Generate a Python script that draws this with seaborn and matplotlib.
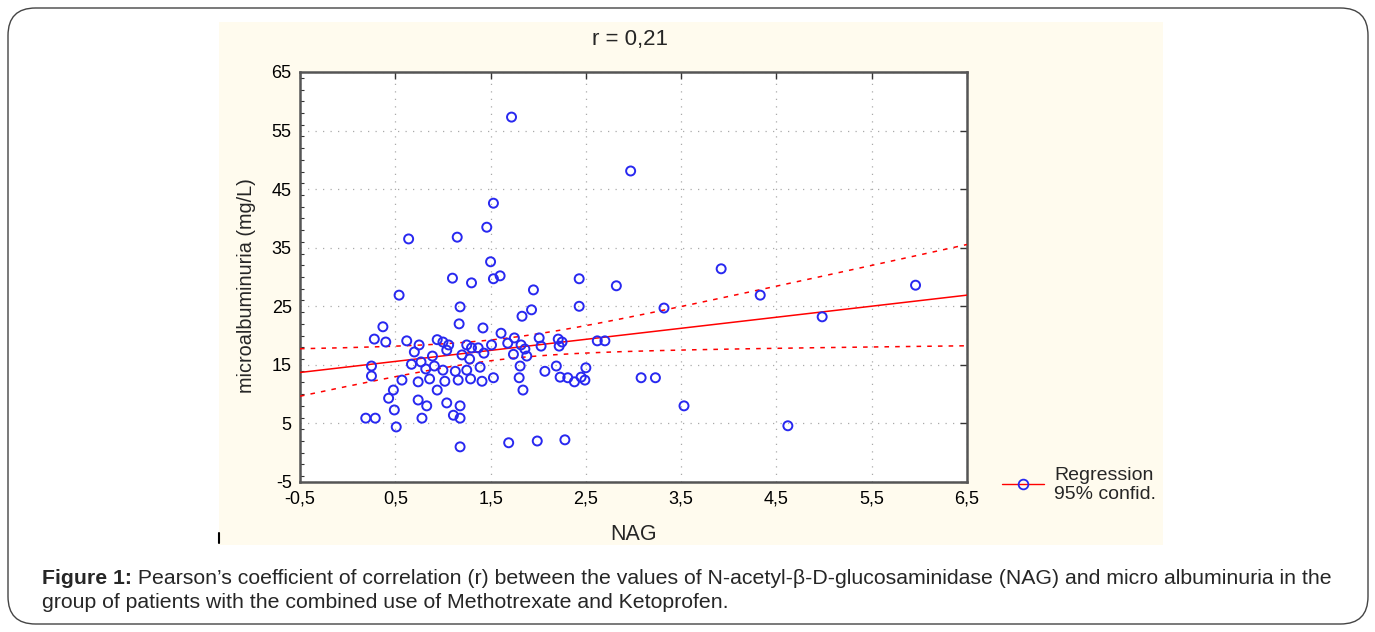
import numpy as np
import pandas as pd
import matplotlib
matplotlib.use("Agg")
import matplotlib.pyplot as plt
from matplotlib.lines import Line2D
from matplotlib.patches import Rectangle, FancyBboxPatch
from matplotlib.ticker import FuncFormatter, MultipleLocator
import seaborn as sns

# ---- data ----
nag = [1.72, 2.97, 1.53, 0.64, 1.15, 1.46, 1.50, 3.92, 1.10, 1.60, 1.53, 2.43, 1.30, 2.82,
       1.95, 5.96, 0.54, 4.33, 2.43, 3.32, 1.18, 4.98, 1.83, 1.93, 0.37, 1.17, 1.42, 1.61,
       1.75, 2.01, 2.21, 2.25, 2.62, 2.70, 0.28, 0.40, 0.62, 0.75, 0.94, 1.00, 1.06, 1.25,
       1.30, 1.37, 1.51, 1.68, 1.82, 1.86, 2.03, 2.22, 0.70, 0.89, 1.04, 1.20, 1.28, 1.43,
       1.74, 1.88, 0.25, 0.25, 0.67, 0.77, 0.82, 0.91, 1.00, 1.13, 1.25, 1.39, 1.81, 2.07,
       2.19, 2.50, 0.57, 0.74, 0.86, 1.02, 1.16, 1.29, 1.41, 1.53, 1.80, 2.23, 2.31, 2.38,
       2.45, 2.49, 3.08, 3.23, 1.84, 0.48, 0.94, 0.74, 0.43, 1.04, 0.83, 1.18, 3.53, 0.49,
       0.19, 0.29, 0.78, 1.11, 1.18, 0.51, 4.62, 1.69, 1.99, 2.28, 1.18]
malb = [57.3, 48.1, 42.6, 36.5, 36.8, 38.5, 32.6, 31.4, 29.8, 30.2, 29.7, 29.7, 29.0, 28.5,
        27.8, 28.6, 26.9, 26.9, 25.0, 24.7, 24.9, 23.2, 23.3, 24.4, 21.5, 22.0, 21.3, 20.4,
        19.6, 19.6, 19.4, 18.9, 19.1, 19.1, 19.4, 18.9, 19.1, 18.4, 19.3, 18.9, 18.4, 18.4,
        17.9, 17.9, 18.4, 18.7, 18.4, 17.7, 18.2, 18.2, 17.2, 16.5, 17.5, 16.7, 16.0, 17.0,
        16.8, 16.5, 14.8, 13.1, 15.1, 15.5, 14.3, 14.8, 14.1, 13.9, 14.1, 14.6, 14.8, 13.9,
        14.8, 14.5, 12.4, 12.1, 12.6, 12.2, 12.4, 12.6, 12.2, 12.8, 12.8, 12.9, 12.8, 12.1,
        12.9, 12.4, 12.8, 12.8, 10.7, 10.7, 10.7, 9.0, 9.3, 8.5, 8.0, 8.0, 8.0, 7.3,
        5.9, 5.9, 5.9, 6.4, 5.9, 4.4, 4.6, 1.7, 2.0, 2.2, 1.0]
x_ticks = [-0.5, 0.5, 1.5, 2.5, 3.5, 4.5, 5.5, 6.5]
y_ticks = [-5, 5, 15, 25, 35, 45, 55, 65]
title_text = "r = 0,21"
x_label = "NAG"
y_label = "microalbuminuria (mg/L)"
legend_label = "Regression\n95% confid."
caption_bold = "Figure 1:"
caption_rest = (" Pearson\u2019s coefficient of correlation (r) between the values of "
                "N-acetyl-\u03b2-D-glucosaminidase (NAG) and micro albuminuria in the")
caption_line2 = "group of patients with the combined use of Methotrexate and Ketoprofen."

df = pd.DataFrame({"NAG": nag, "MALB": malb})

sns.set_theme(style="white")
plt.rcParams["font.family"] = ["Liberation Sans", "DejaVu Sans"]

W, H = 1375, 632
fig = plt.figure(figsize=(W / 100, H / 100), dpi=100)
fig.patch.set_facecolor("white")

# rounded outer border and cream panel
fig.patches.append(FancyBboxPatch((8 / W, 8 / H), 1360 / W, 616 / H,
                                  boxstyle="round,pad=0,rounding_size=0.02",
                                  transform=fig.transFigure, facecolor="white",
                                  edgecolor="#444444", linewidth=1.0, zorder=0,
                                  mutation_aspect=W / H))
fig.patches.append(Rectangle((219 / W, 1 - 545 / H), (1163 - 219) / W, (545 - 22) / H,
                             transform=fig.transFigure, facecolor="#FFFBEE",
                             edgecolor="none", zorder=1))

ax = fig.add_axes([300 / W, 1 - 482 / H, 667 / W, 410 / H])
ax.set_facecolor("white")
ax.set_zorder(2)

# regression and 95% CI from data
x = np.asarray(nag); y = np.asarray(malb)
n = len(x)
b1, b0 = np.polyfit(x, y, 1)
xs = np.linspace(-0.5, 6.5, 200)
yhat = b0 + b1 * xs
resid = y - (b0 + b1 * x)
se = np.sqrt(np.sum(resid ** 2) / (n - 2))
sxx = np.sum((x - x.mean()) ** 2)
t = 1.98
half = t * se * np.sqrt(1 / n + (xs - x.mean()) ** 2 / sxx)

ax.plot(xs, yhat, color="#FF0000", lw=1.1, zorder=3)
ax.plot(xs, yhat + half, color="#FF0000", lw=1.1, ls=(0, (3, 4)), zorder=3)
ax.plot(xs, yhat - half, color="#FF0000", lw=1.1, ls=(0, (3, 4)), zorder=3)

sns.scatterplot(data=df, x="NAG", y="MALB", ax=ax, marker="o", s=42,
                facecolor="none", edgecolor="#2828F0", linewidth=1.4, zorder=4,
                legend=False)

ax.set_xlim(-0.5, 6.5)
ax.set_ylim(-5, 65)
ax.set_xticks(x_ticks)
ax.set_yticks(y_ticks)
ax.yaxis.set_minor_locator(MultipleLocator(2))
fmt = FuncFormatter(lambda v, p: (f"{v:g}").replace(".", ","))
ax.xaxis.set_major_formatter(fmt)
ax.yaxis.set_major_formatter(fmt)
ax.tick_params(axis="both", which="major", direction="in", length=5, width=1,
               top=True, right=True, labelsize=13, colors="#333333", pad=6,
               labelcolor="black")
ax.tick_params(axis="y", which="minor", direction="in", length=3, width=0.8,
               left=True, right=False, colors="#333333")
ax.grid(True, which="major", color="#AAAAAA", linestyle=(0, (1, 5)), linewidth=0.9)
for sp in ax.spines.values():
    sp.set_color("#555555")
    sp.set_linewidth(1.8)

ax.set_xlabel(x_label, fontsize=15.5, labelpad=12)
ax.set_ylabel(y_label, fontsize=14.3, labelpad=8)
ax.yaxis.set_label_coords(-0.066, 0.48)
fig.text(630 / W, 1 - 40 / H, title_text, ha="center", va="center", fontsize=16)

# small mark at bottom-left of panel
fig.add_artist(Line2D([219 / W, 219 / W], [1 - 543 / H, 1 - 533 / H],
                      transform=fig.transFigure, color="black", lw=1.5, zorder=3))

handle = Line2D([0], [0], color="#FF0000", lw=1, marker="o", markersize=7,
                markerfacecolor="none", markeredgecolor="#2828F0", markeredgewidth=1.3)
leg = fig.legend([handle], [legend_label], loc="upper left",
                 bbox_to_anchor=(984 / W, 1 - 449 / H), frameon=False,
                 fontsize=14, handlelength=2.2, handletextpad=0.5, labelspacing=0.1)

cap_fs = 15.3
t1 = fig.text(42 / W, 1 - 578 / H, caption_bold, ha="left", va="center",
              fontsize=cap_fs, fontweight="bold")
fig.canvas.draw()
bb = t1.get_window_extent()
fig.text(bb.x1 / W, 1 - 578 / H, caption_rest, ha="left", va="center", fontsize=cap_fs)
fig.text(42 / W, 1 - 603 / H, caption_line2, ha="left", va="center", fontsize=cap_fs)

fig.savefig("out.png", dpi=100, facecolor="white")
